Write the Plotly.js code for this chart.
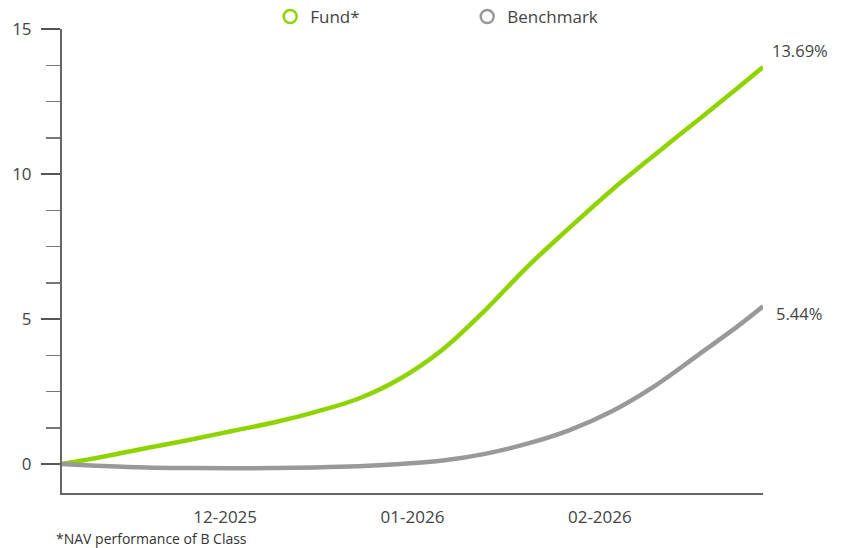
<!DOCTYPE html>
<html>
<head>
<meta charset="utf-8">
<script src="https://cdn.plot.ly/plotly-3.0.1.min.js"></script>
<style>html,body{margin:0;padding:0;background:#fff;}#chart{width:843px;height:548px;}</style>
</head>
<body>
<div id="chart"></div>
<script>
const dates = ["2025-11-04","2025-11-11","2025-11-18","2025-11-25","2025-12-02","2025-12-09","2025-12-16","2025-12-23","2025-12-30","2026-01-06","2026-01-13","2026-01-20","2026-01-27","2026-02-03","2026-02-10","2026-02-17","2026-02-24","2026-02-28"];
const fund = [0, 0.26, 0.55, 0.83, 1.13, 1.43, 1.8, 2.25, 2.95, 3.95, 5.3, 6.8, 8.15, 9.45, 10.65, 11.82, 13.0, 13.69];
const benchmark = [0, -0.07, -0.12, -0.14, -0.15, -0.14, -0.12, -0.08, 0.0, 0.12, 0.35, 0.7, 1.17, 1.82, 2.68, 3.72, 4.78, 5.44];
const tickVals = ["2025-12-01","2026-01-01","2026-02-01"];
const tickText = ["12-2025","01-2026","02-2026"];
const seriesNames = ["Fund*","Benchmark"];
const endLabels = ["13.69%","5.44%"];
const colors = ["#8fd400","#999999"];
const font = "'Open Sans', sans-serif";

const traces = [
  {x: dates, y: fund, mode: "lines", line: {color: colors[0], width: 4.5, shape: "spline", smoothing: 1}, showlegend: false, hoverinfo: "skip"},
  {x: dates, y: benchmark, mode: "lines", line: {color: colors[1], width: 4.5, shape: "spline", smoothing: 1}, showlegend: false, hoverinfo: "skip"},
  {x: [null], y: [null], mode: "markers", name: seriesNames[0], marker: {symbol: "circle-open", size: 13, color: colors[0], line: {width: 2.5, color: colors[0]}}},
  {x: [null], y: [null], mode: "markers", name: seriesNames[1], marker: {symbol: "circle-open", size: 13, color: colors[1], line: {width: 2.5, color: colors[1]}}}
];

const last = dates.length - 1;
const layout = {
  width: 843, height: 548,
  margin: {l: 62, r: 80, t: 29, b: 55, autoexpand: false},
  paper_bgcolor: "#fff", plot_bgcolor: "#fff",
  font: {family: font, size: 17, color: "#444"},
  showlegend: true,
  legend: {orientation: "h", x: 0.297, xanchor: "left", y: 1.026, yanchor: "middle", font: {size: 17, color: "#444"}, itemwidth: 30, traceorder: "normal", entrywidth: 152, bgcolor: "rgba(0,0,0,0)"},
  xaxis: {
    type: "date", range: ["2025-11-04", "2026-02-28"],
    tickvals: tickVals, ticktext: tickText, ticks: "", showgrid: false, zeroline: false,
    showline: true, linecolor: "#666", linewidth: 2, tickfont: {size: 17, color: "#444"}, ticklabelstandoff: 8
  },
  yaxis: {
    range: [-1, 15], tickvals: [0,5,10,15], ticks: "outside", ticklen: 19, tickwidth: 1.5, tickcolor: "#555",
    minor: {tickvals: [1.25,2.5,3.75,6.25,7.5,8.75,11.25,12.5,13.75], ticks: "outside", ticklen: 14, tickwidth: 1.5, tickcolor: "#777"},
    showgrid: false, zeroline: false, showline: true, linecolor: "#666", linewidth: 2,
    tickfont: {size: 17, color: "#444"}, ticklabelstandoff: 6
  },
  annotations: [
    {x: dates[last], y: fund[last], text: endLabels[0], showarrow: false, xanchor: "left", yanchor: "middle", xshift: 7, yshift: 16, font: {size: 16.5, color: "#444"}},
    {x: dates[last], y: benchmark[last], text: endLabels[1], showarrow: false, xanchor: "left", yanchor: "middle", xshift: 11, yshift: -7, font: {size: 16.5, color: "#444"}},
    {xref: "paper", yref: "paper", x: -0.012, y: -0.099, xanchor: "left", yanchor: "middle", text: "*NAV performance of B Class", showarrow: false, font: {size: 14, color: "#333"}}
  ]
};
Plotly.newPlot("chart", traces, layout, {displayModeBar: false, staticPlot: true});
</script>
</body>
</html>
